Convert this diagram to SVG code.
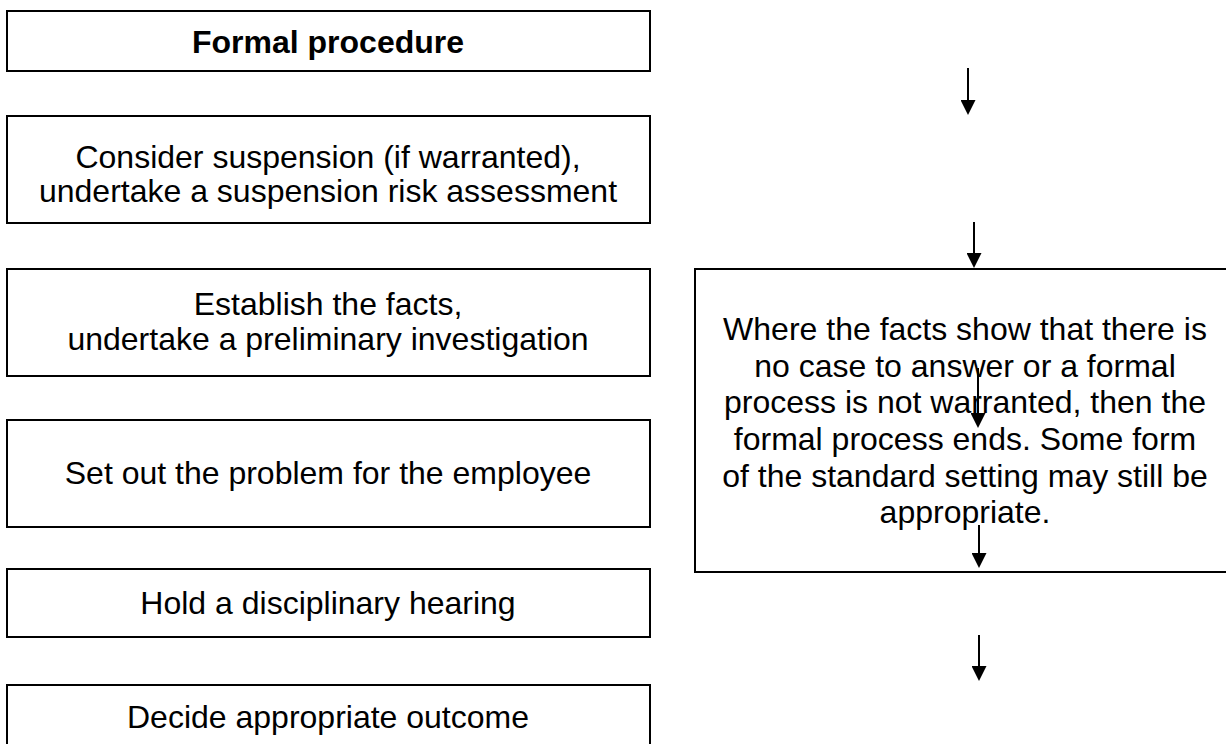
<svg xmlns="http://www.w3.org/2000/svg" width="1226" height="744" viewBox="0 0 1226 744">
<style>
  .box { fill: #ffffff; stroke: #000000; stroke-width: 2; }
  .t { font-family: "Liberation Sans", Arial, sans-serif; font-size: 32px; fill: #000000; text-anchor: middle; }
  .b { font-weight: bold; }
  .conn { stroke: #000000; stroke-width: 2; fill: none; marker-end: url(#arrow); }
</style>
<defs>
  <marker id="arrow" viewBox="0 0 10 10" markerUnits="userSpaceOnUse" markerWidth="15" markerHeight="15" refX="8" refY="5" orient="auto">
    <path d="M0,0 L10,5 L0,10 z" fill="#000000"/>
  </marker>
</defs>
<rect width="1226" height="744" fill="#ffffff"/>
<g id="n-formal">
  <rect class="box" x="7" y="11" width="643" height="60"/>
  <text class="t b" x="328" y="53">Formal procedure</text>
</g>
<g id="n-suspension">
  <rect class="box" x="7" y="116" width="643" height="107"/>
  <text class="t" x="328" y="168">Consider suspension (if warranted),</text>
  <text class="t" x="328" y="202">undertake a suspension risk assessment</text>
</g>
<g id="n-facts">
  <rect class="box" x="7" y="269" width="643" height="107"/>
  <text class="t" x="328" y="315">Establish the facts,</text>
  <text class="t" x="328" y="350">undertake a preliminary investigation</text>
</g>
<g id="n-problem">
  <rect class="box" x="7" y="420" width="643" height="107"/>
  <text class="t" x="328" y="484">Set out the problem for the employee</text>
</g>
<g id="n-hearing">
  <rect class="box" x="7" y="569" width="643" height="68"/>
  <text class="t" x="328" y="614">Hold a disciplinary hearing</text>
</g>
<g id="n-outcome">
  <rect class="box" x="7" y="685" width="643" height="80"/>
  <text class="t" x="328" y="728">Decide appropriate outcome</text>
</g>
<g id="n-nocase">
  <rect class="box" x="695" y="269" width="545" height="303"/>
  <text class="t" x="965" y="340">Where the facts show that there is</text>
  <text class="t" x="965" y="377">no case to answer or a formal</text>
  <text class="t" x="965" y="413">process is not warranted, then the</text>
  <text class="t" x="965" y="450">formal process ends. Some form</text>
  <text class="t" x="965" y="487">of the standard setting may still be</text>
  <text class="t" x="965" y="523">appropriate.</text>
</g>
<g id="connectors">
  <line class="conn" x1="968" y1="68" x2="968" y2="112"/>
  <line class="conn" x1="974" y1="222" x2="974" y2="265"/>
  <line class="conn" x1="978" y1="368" x2="978" y2="425"/>
  <line class="conn" x1="979" y1="525" x2="979" y2="565"/>
  <line class="conn" x1="979" y1="635" x2="979" y2="678"/>
</g>
</svg>
